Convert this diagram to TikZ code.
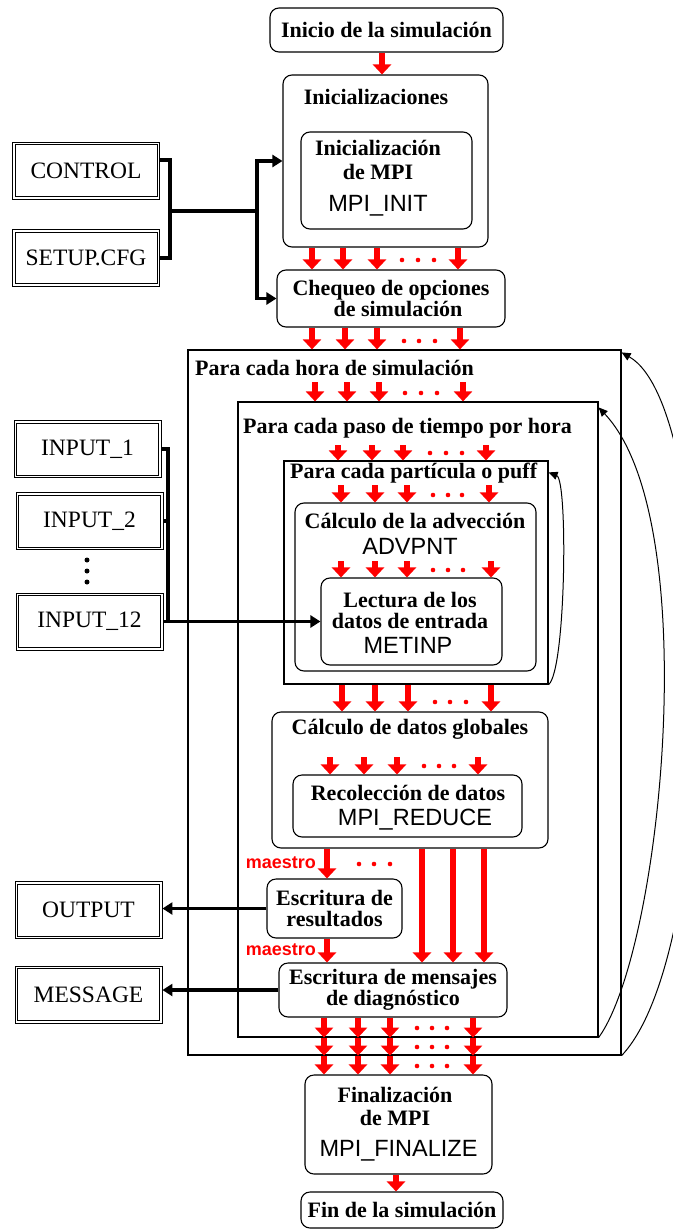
\documentclass[tikz,border=0pt]{standalone}
\usepackage{fontspec}
\setmainfont{Liberation Serif}
\setsansfont{Liberation Sans}
\usetikzlibrary{arrows.meta}
\begin{document}
\begin{tikzpicture}[x=1pt,y=-1pt,
  box/.style={draw=black,line width=1.1pt,rounded corners=9pt,inner sep=0pt},
  sq/.style={draw=black,line width=1.2pt,inner sep=0pt},
  dbox/.style={draw=black,line width=0.9pt,inner sep=0pt,
    minimum width=147pt,minimum height=57pt,font=\fontsize{23.5}{24}\selectfont},
  dinner/.style={draw=black,line width=0.9pt},
  tt/.style={font=\bfseries\fontsize{22}{20.5}\selectfont,align=center,inner sep=0pt},
  st/.style={font=\sffamily\fontsize{23.5}{24}\selectfont,inner sep=0pt},
  rarr/.style={draw=red,line width=5.8pt,-{Triangle[length=10pt,width=18pt]}},
  rdot/.style={fill=red,circle,inner sep=0pt,minimum size=4.6pt},
  bdot/.style={fill=black,circle,inner sep=0pt,minimum size=5pt},
  bus/.style={line width=3.2pt},
  barr/.style={line width=3.2pt,-{Triangle[length=10pt,width=12pt]}},
  loopa/.style={line width=1pt,-{Triangle[length=9pt,width=8pt]}},
  ms/.style={red,font=\sffamily\bfseries\fontsize{18}{18}\selectfont,inner sep=0pt}
]
\useasboundingbox[fill=white] (0,0) rectangle (672,1230);

% ---------- containers ----------
\node[sq,minimum width=433pt,minimum height=705pt] (hora) at (404.5,702.5) {};
\node[sq,minimum width=360pt,minimum height=635pt] (paso) at (418,719.5) {};
\node[sq,minimum width=264pt,minimum height=223pt] (part) at (416,572.5) {};
\node[box,minimum width=241pt,minimum height=168pt] (adv) at (415.5,587) {};
\node[box,minimum width=181pt,minimum height=87pt] (lect) at (411.5,621.5) {};
\node[box,minimum width=276pt,minimum height=136pt] (glob) at (410,780) {};
\node[box,minimum width=229pt,minimum height=62pt] (recol) at (407.5,806) {};
\node[box,tt,minimum width=135pt,minimum height=59pt] (escres) at (334.5,908.5) {Escritura de\\resultados};
\node[box,tt,minimum width=228pt,minimum height=54pt] (escmen) at (393,990) {Escritura de mensajes\\de diagnóstico};
\node[box,minimum width=187pt,minimum height=99pt] (final) at (398.5,1124.5) {};
\node[box,tt,minimum width=202pt,minimum height=36pt] (fin) at (402,1210) {Fin de la simulación};
\node[box,tt,minimum width=233pt,minimum height=44pt] (inicio) at (386.5,30) {Inicio de la simulación};
\node[box,minimum width=205pt,minimum height=172pt] (inic) at (385.5,161) {};
\node[box,minimum width=171pt,minimum height=97pt] (mpiinit) at (386.5,180.5) {};
\node[box,tt,minimum width=228pt,minimum height=57pt] (cheq) at (391,298.5) {Chequeo de opciones\\\hspace*{14pt}de simulación};

% ---------- titles and texts ----------
\node[tt] (inict) at (376,97) {Inicializaciones};
\node[tt] (mpiinitt) at (378,160) {Inicialización\\[3.5pt]de MPI};
\node[st] (mpiinits) at (378,206) {MPI\_INIT};
\node[tt,anchor=west] (horat) at (195,368) {Para cada hora de simulación};
\node[tt,anchor=west] (pasot) at (243,428) {Para cada paso de tiempo por hora};
\node[tt,anchor=west] (partt) at (290,473) {Para cada partícula o puff};
\node[tt] (advt) at (415,521) {Cálculo de la advección};
\node[st] (advs) at (410,546) {ADVPNT};
\node[tt] (lectt) at (410,610.5) {Lectura de los\\datos de entrada};
\node[st] (lects) at (408,645) {METINP};
\node[tt] (globt) at (410,729) {Cálculo de datos globales};
\node[tt] (recolt) at (408,793) {Recolección de datos};
\node[st] (recols) at (415,820) {MPI\_REDUCE};
\node[tt] (finalt) at (395,1106.5) {Finalización\\[2.5pt]de MPI};
\node[st] (finals) at (398.5,1151) {MPI\_FINALIZE};
\node[ms,anchor=east] (m1) at (316,863) {maestro};
\node[ms,anchor=east] (m2) at (316,950) {maestro};

% ---------- files ----------
\node[dbox] (control) at (86,170.5) {CONTROL};
\node[dbox] (setup) at (86,258) {SETUP.CFG};
\node[dbox] (in1) at (87.5,449) {INPUT\_1};
\node[dbox] (in2) at (89.5,521) {INPUT\_2};
\node[dbox] (in12) at (89.5,621.5) {INPUT\_12};
\node[dbox] (output) at (88.5,910) {OUTPUT};
\node[dbox] (message) at (88.5,994.5) {MESSAGE};
\foreach \n in {control,setup,in1,in2,in12,output,message}
  \draw[dinner] ([xshift=3pt,yshift=-3pt]\n.north west) rectangle ([xshift=-3pt,yshift=3pt]\n.south east);
\foreach \yy in {560,571,582} \node[bdot] (vd\yy) at (87,\yy) {};

% ---------- black connectors ----------
\coordinate (cb) at (170,211);
\coordinate (cj) at (257,211);
\draw[bus] ([yshift=10.5pt]control.east) -| (cb) |- (setup.east);
\draw[bus] (cb) -- (cj);
\draw[barr] (cj) |- (inic.west);
\draw[barr] (cj) |- (cheq.west);
\coordinate (ib) at (168,621.5);
\draw[bus] (in1.east) -| (ib);
\draw[bus] (in2.east) -- (in2.east -| ib);
\draw[barr] (in12.east) -- (lect.west);
\draw[barr] (escres.west) -- (escres.west -| output.east);
\draw[barr] (escmen.west) -- (escmen.west -| message.east);

% ---------- loops ----------
\draw[loopa] (part.south east) .. controls (566,670) and (568,480) .. ([yshift=-12pt]part.north east);
\draw[loopa] (paso.south east) .. controls (662,950) and (705,520) .. ([yshift=-6pt]paso.north east);
\draw[loopa] (hora.south east) .. controls (722,950) and (722,410) .. ([yshift=-3pt]hora.north east);

% ---------- red arrows ----------
\draw[rarr] (inicio.south -| 382,0) -- (inic.north -| 382,0);
\foreach \xx in {312,343,377,458} \draw[rarr] (inic.south -| \xx,0) -- (cheq.north -| \xx,0);
\foreach \xx in {402,418,434} \node[rdot] (da\xx) at (\xx,260) {};
\foreach \xx in {312,345,377,460} \draw[rarr] (cheq.south -| \xx,0) -- (hora.north -| \xx,0);
\foreach \xx in {404,419,435} \node[rdot] (db\xx) at (\xx,341) {};
\foreach \xx in {315,347,379,463} \draw[rarr] (\xx,382) -- (paso.north -| \xx,0);
\foreach \xx in {405,421,437} \node[rdot] (dc\xx) at (\xx,393) {};
\foreach \xx in {338,372,403,486} \draw[rarr] (\xx,445) -- (part.north -| \xx,0);
\foreach \xx in {430,446,462} \node[rdot] (dd\xx) at (\xx,453) {};
\foreach \xx in {341,375,407,489} \draw[rarr] (\xx,485) -- (adv.north -| \xx,0);
\foreach \xx in {433,448,462} \node[rdot] (de\xx) at (\xx,495) {};
\foreach \xx in {341,375,407,491} \draw[rarr] (\xx,561) -- (lect.north -| \xx,0);
\foreach \xx in {433,448,463} \node[rdot] (df\xx) at (\xx,570) {};
\foreach \xx in {342,375,408,491} \draw[rarr] (part.south -| \xx,0) -- (glob.north -| \xx,0);
\foreach \xx in {435,450,466} \node[rdot] (dg\xx) at (\xx,702) {};
\foreach \xx in {330,364,397,478} \draw[rarr] (\xx,757) -- (recol.north -| \xx,0);
\foreach \xx in {424,439,454} \node[rdot] (dh\xx) at (\xx,766) {};
\draw[rarr] (glob.south -| 327,0) -- (escres.north -| 327,0);
\draw[rarr] (escres.south -| 327,0) -- (escmen.north -| 327,0);
\foreach \xx in {422,453,484} \draw[rarr] (glob.south -| \xx,0) -- (escmen.north -| \xx,0);
\foreach \xx in {359,374,390} \node[rdot] (di\xx) at (\xx,864) {};
\foreach \xx in {324,358,390,473} {
  \draw[rarr] (escmen.south -| \xx,0) -- (paso.south -| \xx,0);
  \draw[rarr] (paso.south -| \xx,0) -- (hora.south -| \xx,0);
  \draw[rarr] (hora.south -| \xx,0) -- (final.north -| \xx,0);
}
\foreach \yy in {1028,1047,1066} \foreach \xx in {417,432,447} \node[rdot] (dj\xx-\yy) at (\xx,\yy) {};
\draw[rarr] (final.south -| 396,0) -- (fin.north -| 396,0);
\end{tikzpicture}
\end{document}
